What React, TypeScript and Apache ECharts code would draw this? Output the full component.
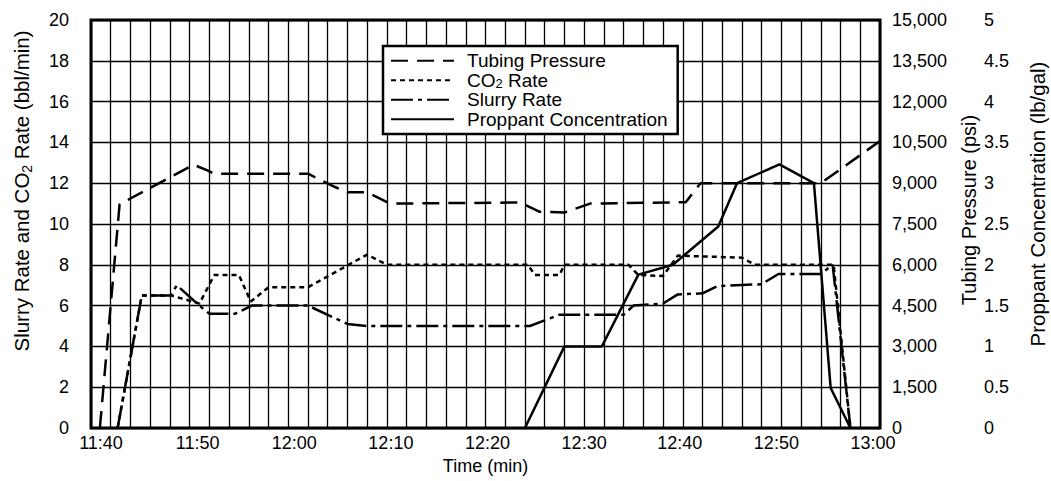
import React, { useEffect, useRef } from "react";
import * as echarts from "echarts";

// time in minutes after 11:40
const timeStart = { hour: 11, minute: 40 };
const timeTickStep = 10;

const tubingPressure: [number, number][] = [
  [0.9, 0], [2.9, 8230], [3.8, 8400], [10.4, 9680], [11.8, 9470], [12.5, 9350],
  [22, 9350], [24.8, 8850], [26, 8670], [28, 8670], [30.3, 8250], [43.5, 8290],
  [45.5, 7950], [48, 7920], [50.6, 8250], [60.3, 8300], [61.8, 9000], [74, 9000],
  [80, 10550],
];

const co2Rate: [number, number][] = [
  [2.7, 0], [5.15, 6.5], [8.1, 6.5], [11, 6.1], [12.5, 7.5], [15, 7.5], [16.2, 6.2],
  [18, 6.9], [22, 6.9], [28, 8.5], [30, 8.0], [44.3, 8.0], [45, 7.5], [47.5, 7.5],
  [48, 8.0], [54.5, 8.0], [55.5, 7.5], [58, 7.45], [59.5, 8.45], [66, 8.35],
  [67.3, 8.0], [75.3, 8.0], [77, 0],
];

const slurryRate: [number, number][] = [
  [2.7, 0], [5.15, 6.5], [8.1, 6.5], [8.7, 7.0], [11, 6.0], [12, 5.6], [14.6, 5.6],
  [16.3, 6.0], [22, 6.0], [26, 5.1], [28, 5.0], [44.5, 5.0], [47.5, 5.55], [54, 5.55],
  [55, 6.0], [58, 6.1], [59.5, 6.55], [62, 6.6], [63.5, 6.95], [68, 7.05], [69.7, 7.55],
  [74, 7.55], [75.2, 8.0], [77, 0],
];

const proppantConc: [number, number][] = [
  [44, 0], [48, 1.0], [51.8, 1.0], [55.5, 1.88], [59, 2.0], [63.6, 2.47], [65.5, 3.0],
  [69.8, 3.23], [73.3, 3.0], [75, 0.49], [77, 0],
];

const seriesNames = ["Tubing Pressure", "CO2 Rate", "Slurry Rate", "Proppant Concentration"];

const FONT = "'Liberation Sans', Arial, Helvetica, sans-serif";
const gridLine = { color: "#000", width: 1.3 };

function fmtTime(v: number): string {
  const total = timeStart.hour * 60 + timeStart.minute + v;
  const h = Math.floor(total / 60);
  const m = Math.round(total % 60);
  return `${h}:${m < 10 ? "0" + m : m}`;
}

// small horizontal nudges of the time labels, as printed in the original
function labelShift(v: number): number {
  return Math.round(10 - 0.21 * v);
}

export default function App() {
  const ref = useRef<HTMLDivElement>(null);
  useEffect(() => {
    if (!ref.current) return;
    const chart = echarts.init(ref.current, undefined, { renderer: "svg" });

    const xRich: Record<string, any> = {};
    for (let v = 0; v <= 80; v += timeTickStep) {
      const d = labelShift(v);
      xRich["t" + v] = {
        fontSize: 18, fontFamily: FONT, color: "#000", lineHeight: 14,
        padding: d >= 0 ? [0, 0, 0, 2 * d] : [0, -2 * d, 0, 0],
      };
    }

    const nameRich = {
      a: { fontSize: 20.5, fontFamily: FONT, color: "#000", lineHeight: 25 },
      s: { fontSize: 14, fontFamily: FONT, color: "#000", verticalAlign: "bottom", lineHeight: 14 },
    };
    const option: any = {
      animation: false,
      backgroundColor: "#fff",
      textStyle: { fontFamily: FONT, color: "#000" },
      grid: {
        left: 91, right: 171, top: 20, bottom: 53,
        containLabel: false, outerBoundsMode: "none",
        show: true, borderColor: "#000", borderWidth: 3, backgroundColor: "transparent",
      },
      legend: {
        orient: "vertical",
        left: 383, top: 46,
        padding: [5, 10, 5, 7],
        itemGap: 0, itemWidth: 63, itemHeight: 12,
        borderColor: "#000", borderWidth: 2.5, backgroundColor: "#fff",
        itemStyle: { opacity: 0, borderWidth: 0 },
        data: seriesNames,
        formatter: (name: string) =>
          name === "CO2 Rate" ? "{a|CO}{s|2}{a| Rate}" : `{a|${name}}`,
        textStyle: {
          fontSize: 19, color: "#000", lineHeight: 19.5, padding: [0, 0, 0, 8],
          rich: {
            a: { fontSize: 19, fontFamily: FONT, color: "#000", lineHeight: 19.5 },
            s: { fontSize: 13, fontFamily: FONT, color: "#000", verticalAlign: "bottom", lineHeight: 10 },
          },
        },
      },
      xAxis: {
        type: "value", min: 0, max: 80, interval: timeTickStep,
        name: "Time (min)", nameLocation: "middle", nameGap: 25,
        nameTextStyle: { fontSize: 18, color: "#000", fontFamily: FONT },
        axisLine: { show: false }, axisTick: { show: false },
        axisLabel: {
          fontSize: 18, color: "#000", margin: 8, lineHeight: 14,
          formatter: (v: number) => `{t${Math.round(v)}|${fmtTime(v)}}`,
          rich: xRich,
          showMinLabel: true, showMaxLabel: true, fontFamily: FONT,
        },
        splitLine: { show: true, lineStyle: gridLine },
        minorTick: { show: false, splitNumber: 5 },
        minorSplitLine: { show: true, lineStyle: gridLine },
      },
      yAxis: [
        {
          type: "value", min: 0, max: 20, interval: 2, position: "left",
          name: "{a|Slurry Rate and CO}{s|2}{a| Rate (bbl/min)}",
          nameLocation: "middle", nameGap: 57,
          nameTextStyle: { rich: nameRich, padding: [0, 0, 0, 66] },
          axisLine: { show: false }, axisTick: { show: false },
          axisLabel: { fontSize: 18, color: "#000", margin: 22, fontFamily: FONT },
          splitLine: { show: true, lineStyle: gridLine },
        },
        {
          type: "value", min: 0, max: 15000, interval: 1500, position: "right",
          name: "Tubing Pressure (psi)", nameLocation: "middle", nameGap: 79,
          nameTextStyle: { fontSize: 20, color: "#000", fontFamily: FONT, padding: [0, 0, 0, 28] },
          axisLine: { show: false }, axisTick: { show: false },
          axisLabel: {
            fontSize: 18, color: "#000", margin: 12, fontFamily: FONT, lineHeight: 12,
            formatter: (v: number) => v.toLocaleString("en-US"),
          },
          splitLine: { show: false },
        },
        {
          type: "value", min: 0, max: 5, interval: 0.5, position: "right", offset: 92,
          name: "Proppant Concentration (lb/gal)", nameLocation: "middle", nameGap: 55,
          nameTextStyle: { fontSize: 20.5, color: "#000", fontFamily: FONT, padding: [0, 0, 0, 40] },
          axisLine: { show: false }, axisTick: { show: false },
          axisLabel: { fontSize: 18, color: "#000", margin: 12, fontFamily: FONT, lineHeight: 12 },
          splitLine: { show: false },
        },
      ],
      series: [
        {
          name: "Tubing Pressure", type: "line", yAxisIndex: 1, data: tubingPressure,
          symbol: "none", lineStyle: { color: "#000", width: 2.5, type: [17, 9] },
          itemStyle: { color: "#000" },
        },
        {
          name: "CO2 Rate", type: "line", yAxisIndex: 0, data: co2Rate,
          symbol: "none", lineStyle: { color: "#000", width: 2.5, type: [5, 4] },
          itemStyle: { color: "#000" },
        },
        {
          name: "Slurry Rate", type: "line", yAxisIndex: 0, data: slurryRate,
          symbol: "none", lineStyle: { color: "#000", width: 2.5, type: [22, 5, 4, 5] },
          itemStyle: { color: "#000" },
        },
        {
          name: "Proppant Concentration", type: "line", yAxisIndex: 2, data: proppantConc,
          symbol: "none", lineStyle: { color: "#000", width: 2.5, type: "solid" },
          itemStyle: { color: "#000" },
        },
      ],
    };
    chart.setOption(option);
    return () => chart.dispose();
  }, []);
  return (
    <div
      ref={ref}
      style={{ position: "fixed", left: 0, top: 0, width: 1051, height: 481, background: "#fff" }}
    />
  );
}
